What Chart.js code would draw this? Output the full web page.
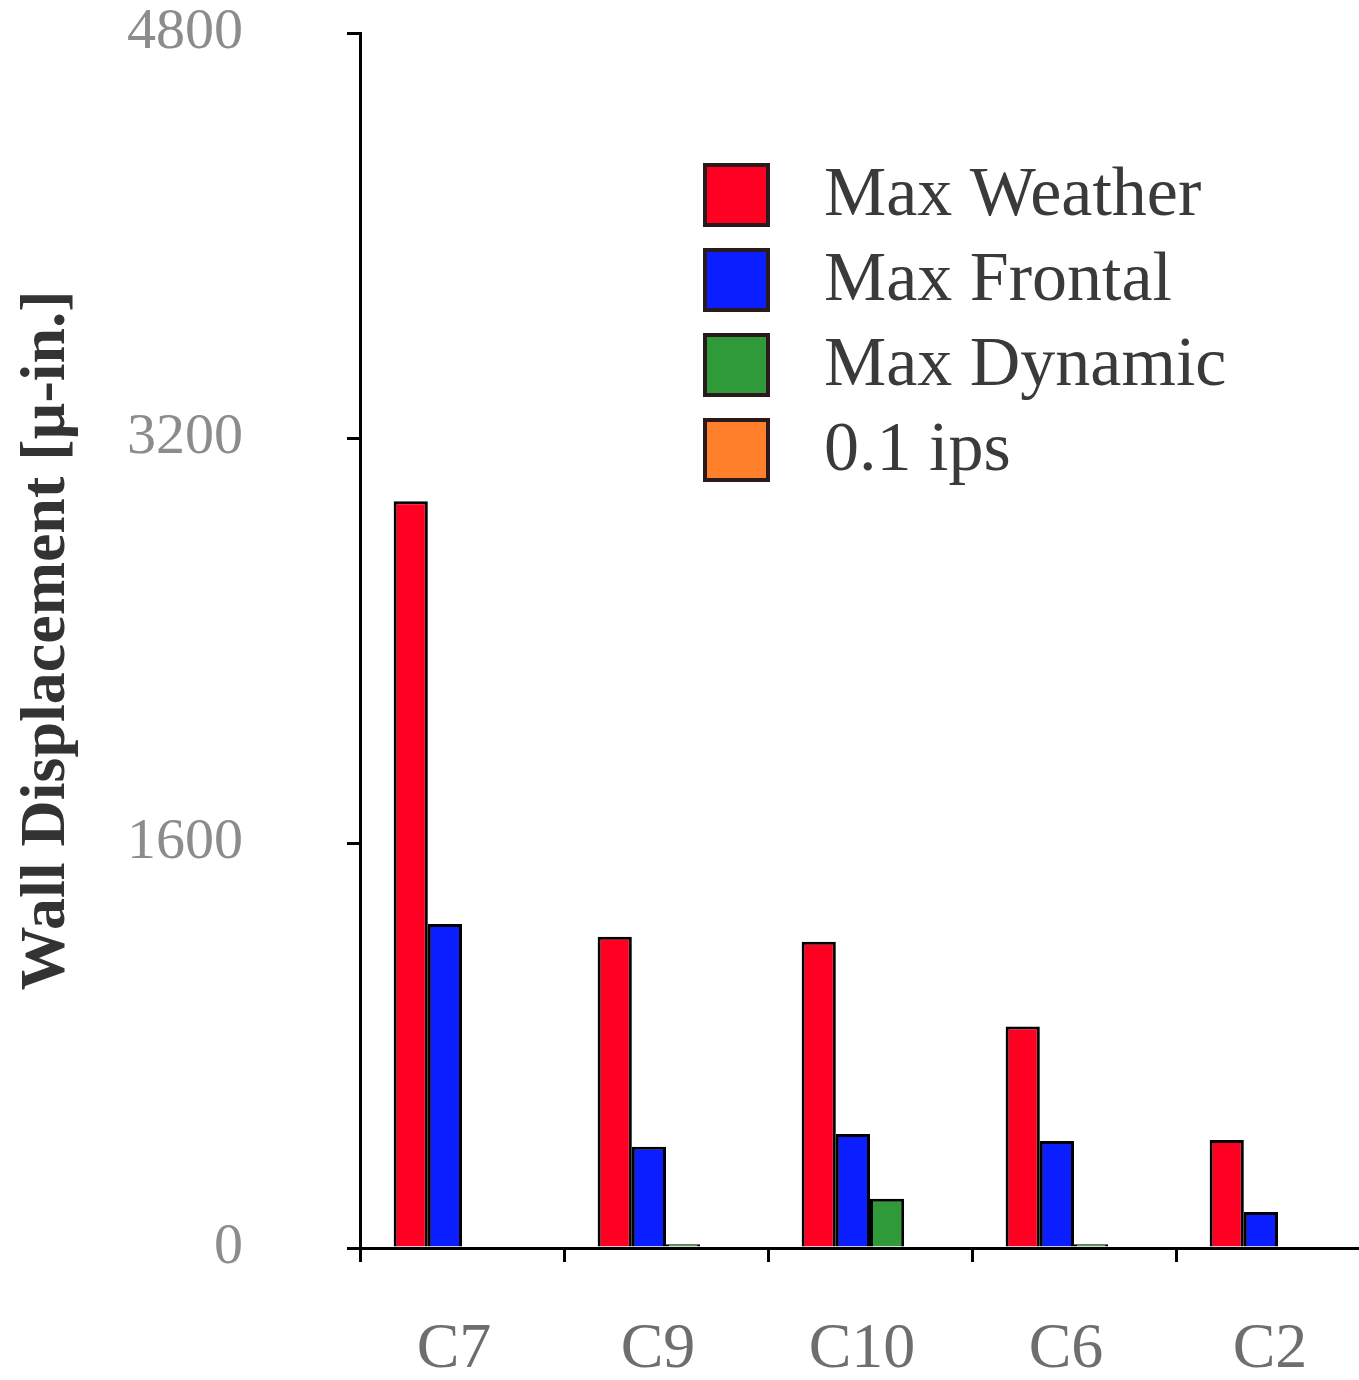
<!DOCTYPE html>
<html>
<head>
<meta charset="utf-8">
<title>Wall Displacement</title>
<script src="https://cdn.jsdelivr.net/npm/chart.js@4"></script>
<style>
  html, body { margin: 0; padding: 0; background: #ffffff; overflow: hidden; }
  #wrap { width: 1359px; height: 1380px; overflow: hidden; }
  canvas { display: block; }
</style>
</head>
<body>
<div id="wrap">
  <canvas id="myChart" width="1400" height="1380"></canvas>
</div>
<script>
// chart data
var categories = ['C7', 'C9', 'C10', 'C6', 'C2'];
var maxWeather = [2950, 1230, 1210, 875, 427];
var maxFrontal = [1280, 400, 450, 423, 142];
var maxDynamic = [0, 15, 195, 15, 0];
var ips01 = [0, 0, 0, 0, 0];
var yTicks = [0, 1600, 3200, 4800];

var seriesNames = ['Max Weather', 'Max Frontal', 'Max Dynamic', '0.1 ips'];
var seriesColors = ['#ff0022', '#0a1eff', '#2f9a3a', '#ff7f2a'];

var serif = "'Liberation Serif', 'DejaVu Serif', serif";

// draws the legend inside the plot, like the original figure
var boxLegend = {
  id: 'boxLegend',
  afterDraw: function(chart) {
    var ctx = chart.ctx;
    ctx.save();
    chart.data.datasets.forEach(function(ds, i) {
      var y = 165 + i * 85;
      ctx.fillStyle = ds.backgroundColor;
      ctx.fillRect(705, y, 63, 60);
      ctx.lineWidth = 4;
      ctx.strokeStyle = '#2a1a1a';
      ctx.strokeRect(705, y, 63, 60);
      ctx.fillStyle = '#3a3a3a';
      ctx.font = '70px ' + serif;
      ctx.textBaseline = 'middle';
      ctx.fillText(ds.label, 824, y + 32);
    });
    ctx.restore();
  }
};

var ctx = document.getElementById('myChart').getContext('2d');

var myChart = new Chart(ctx, {
  type: 'bar',
  data: {
    labels: categories,
    datasets: [
      { label: seriesNames[0], data: maxWeather, backgroundColor: seriesColors[0] },
      { label: seriesNames[1], data: maxFrontal, backgroundColor: seriesColors[1] },
      { label: seriesNames[2], data: maxDynamic, backgroundColor: seriesColors[2] },
      { label: seriesNames[3], data: ips01, backgroundColor: seriesColors[3] }
    ]
  },
  options: {
    responsive: false,
    animation: false,
    layout: { padding: { top: 33, right: 20, left: 0, bottom: 0 } },
    datasets: {
      bar: {
        borderColor: '#000000',
        borderWidth: 3,
        categoryPercentage: 0.67,
        barPercentage: 1.0
      }
    },
    scales: {
      x: {
        offset: true,
        afterFit: function(scale) { scale.height = 132; },
        border: { color: '#000000', width: 3 },
        grid: {
          offset: true,
          drawOnChartArea: false,
          color: '#000000',
          lineWidth: 3,
          tickLength: 14
        },
        ticks: {
          color: '#6e6e6e',
          padding: 50,
          labelOffset: -8,
          font: { family: serif, size: 64 }
        }
      },
      y: {
        min: 0,
        max: 4800,
        afterFit: function(scale) {
          scale.width = 360;
          // keep the big label gap from pushing the plot area down
          scale.paddingTop = 0;
          scale.paddingBottom = 0;
        },
        afterBuildTicks: function(scale) {
          scale.ticks = yTicks.map(function(v) { return { value: v }; });
        },
        border: { color: '#000000', width: 3 },
        grid: {
          drawOnChartArea: false,
          color: '#000000',
          lineWidth: 3,
          tickLength: 13
        },
        ticks: {
          color: '#8c8c8c',
          padding: 104,
          font: { family: serif, size: 58 },
          callback: function(value) { return String(value); }
        },
        title: {
          display: true,
          text: 'Wall Displacement [µ-in.]',
          color: '#333333',
          padding: { top: 9, bottom: 0 },
          font: { family: serif, size: 64, weight: 'bold' }
        }
      }
    },
    plugins: {
      legend: { display: false },
      tooltip: { enabled: false }
    }
  },
  plugins: [boxLegend]
});
</script>
</body>
</html>
